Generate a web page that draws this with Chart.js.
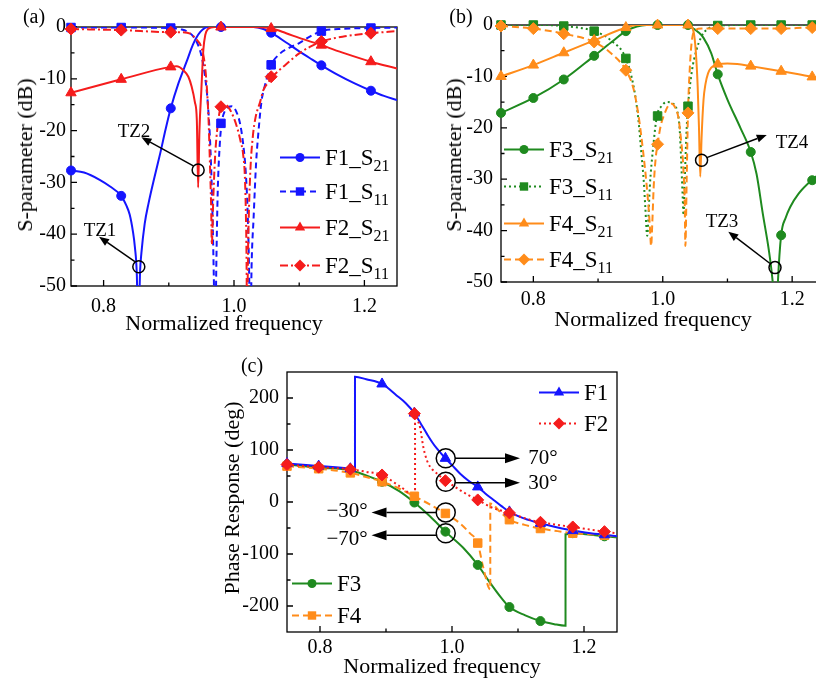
<!DOCTYPE html>
<html lang="en">
<head>
<meta charset="UTF-8">
<title>Filter responses</title>
<script src="https://cdn.jsdelivr.net/npm/chart.js"></script>
<style>
  body { margin: 0; width: 816px; height: 681px; overflow: hidden; background: #fff; position: relative;
         font-family: "Liberation Serif", "Times New Roman", serif; color: #000; }
  .box { position: absolute; }
  .txt { position: absolute; white-space: nowrap; line-height: 1; transform: translate(-50%, -50%); }
  .ytitle { transform: translate(-50%, -50%) rotate(-90deg); }
  .leg { position: absolute; display: flex; align-items: center; white-space: nowrap; font-size: 23px;
         line-height: 1; transform: translateY(-50%); }
  .leg svg { margin-right: 5px; }
  .leg sub { font-size: 16px; vertical-align: -6px; line-height: 0; }
</style>
</head>
<body>
<div class="box" style="left:0;top:0"><canvas id="chartA" width="410" height="340"></canvas></div>
<div class="box" style="left:420px;top:0"><canvas id="chartB" width="420" height="340"></canvas></div>
<div class="box" style="left:200px;top:345px"><canvas id="chartC" width="430" height="336"></canvas></div>

<div class="txt" style="left:34px;top:16px;font-size:20px">(a)</div>
<div class="txt" style="left:461px;top:16px;font-size:20px">(b)</div>
<div class="txt" style="left:252px;top:365px;font-size:20px">(c)</div>

<div class="txt ytitle" style="left:25px;top:155px;font-size:22px">S-parameter (dB)</div>
<div class="txt ytitle" style="left:454px;top:155px;font-size:22px">S-parameter (dB)</div>
<div class="txt ytitle" style="left:232px;top:498px;font-size:22px">Phase Response (deg)</div>
<div class="txt" style="left:224px;top:323px;font-size:22px">Normalized frequency</div>
<div class="txt" style="left:653px;top:319px;font-size:22px">Normalized frequency</div>
<div class="txt" style="left:442px;top:666px;font-size:22px">Normalized frequency</div>

<div class="txt" style="left:100px;top:229px;font-size:19px">TZ1</div>
<div class="txt" style="left:134px;top:130px;font-size:19px">TZ2</div>
<div class="txt" style="left:722px;top:220px;font-size:19px">TZ3</div>
<div class="txt" style="left:792px;top:141px;font-size:19px">TZ4</div>
<div class="txt" style="left:543px;top:457px;font-size:21px">70°</div>
<div class="txt" style="left:543px;top:482px;font-size:21px">30°</div>
<div class="txt" style="left:347px;top:510px;font-size:21px">−30°</div>
<div class="txt" style="left:347px;top:538px;font-size:21px">−70°</div>

<script>
// ---------- panel (a): F1 / F2 S-parameters ----------
const a_f1s21_f  = [0.75, 0.77, 0.794, 0.81, 0.827, 0.835, 0.84, 0.845, 0.848, 0.851, 0.853, 0.856, 0.858, 0.863, 0.869, 0.878, 0.887, 0.895, 0.903, 0.915, 0.927, 0.937, 0.945, 0.952, 0.96, 0.98, 1.03, 1.045, 1.057, 1.08, 1.10, 1.12, 1.134, 1.16, 1.185, 1.21, 1.23, 1.25];
const a_f1s21_db = [-27.7, -28.1, -29.5, -30.8, -32.6, -34.5, -36.2, -39.5, -42.5, -48, -60, -47, -43.6, -38, -34, -29, -24.3, -19.8, -15.7, -10.8, -6.8, -3.4, -1.5, -0.5, 0, 0, 0, -0.4, -1.1, -3.0, -4.7, -6.3, -7.4, -9.3, -10.9, -12.3, -13.3, -14.1];

const a_f1s11_f  = [0.75, 0.827, 0.903, 0.92, 0.93, 0.938, 0.945, 0.95, 0.955, 0.96, 0.964, 0.967, 0.969, 0.971, 0.973, 0.975, 0.978, 0.981, 0.986, 0.992, 0.997, 1.003, 1.009, 1.014, 1.018, 1.021, 1.023, 1.025, 1.027, 1.03, 1.034, 1.037, 1.042, 1.047, 1.052, 1.057, 1.07, 1.085, 1.10, 1.117, 1.134, 1.16, 1.21, 1.25];
const a_f1s11_db = [-0.1, -0.1, -0.2, -0.5, -1.0, -1.9, -3.5, -5.5, -9, -15, -24, -36, -48, -62, -45, -32, -23, -18.6, -16.2, -15.4, -15.3, -16.2, -18.5, -22.5, -28, -36, -46, -62, -46, -37, -26, -21, -14.5, -11.5, -9.2, -7.3, -5.2, -4.0, -3.1, -1.8, -0.8, -0.4, -0.2, -0.1];

const a_f2s21_f  = [0.75, 0.827, 0.903, 0.912, 0.922, 0.93, 0.935, 0.94, 0.943, 0.945, 0.947, 0.95, 0.953, 0.956, 0.96, 0.97, 1.03, 1.058, 1.08, 1.10, 1.134, 1.17, 1.21, 1.25];
const a_f2s21_db = [-12.7, -10.1, -7.7, -7.6, -8.3, -9.6, -11.5, -14.5, -18, -31, -20, -12, -4.4, -1.5, -0.4, 0, 0, -0.3, -1.2, -2.1, -3.5, -5.1, -6.7, -8.0];

const a_f2s11_f  = [0.75, 0.827, 0.903, 0.92, 0.933, 0.943, 0.95, 0.955, 0.958, 0.961, 0.963, 0.965, 0.966, 0.968, 0.971, 0.975, 0.98, 0.986, 0.992, 0.999, 1.005, 1.01, 1.014, 1.017, 1.019, 1.02, 1.022, 1.025, 1.029, 1.033, 1.04, 1.045, 1.052, 1.059, 1.08, 1.10, 1.117, 1.134, 1.17, 1.21, 1.25];
const a_f2s11_db = [-0.4, -0.6, -1.0, -1.0, -1.3, -2.5, -3.9, -7, -11, -18, -26, -35, -42, -34, -25, -19, -15.4, -15.0, -15.6, -17.3, -19.5, -22, -24.6, -30, -42, -55, -40, -28, -21, -17.5, -14.5, -12.2, -10.8, -9.6, -7.2, -5.1, -3.8, -2.8, -1.8, -1.2, -0.8];

const a_mark_f     = [0.75, 0.827, 0.903, 0.98, 1.057, 1.134, 1.21];
const a_f1s21_mark = [-27.7, -32.6, -15.7, 0, -1.1, -7.4, -12.3];
const a_f1s11_mark = [-0.1, -0.1, -0.2, -18.6, -7.3, -0.8, -0.2];
const a_f2s21_mark = [-12.7, -10.1, -7.7, 0, -0.3, -3.5, -6.7];
const a_f2s11_mark = [-0.4, -0.6, -1.0, -15.4, -9.6, -2.8, -1.2];

// ---------- panel (b): F3 / F4 S-parameters ----------
const b_f3s21_f  = [0.75, 0.8, 0.847, 0.894, 0.92, 0.943, 0.96, 0.975, 1.036, 1.045, 1.055, 1.063, 1.075, 1.085, 1.10, 1.12, 1.136, 1.145, 1.155, 1.163, 1.168, 1.172, 1.175, 1.178, 1.183, 1.19, 1.197, 1.21, 1.23, 1.25];
const b_f3s21_db = [-17.1, -14.2, -10.6, -6.0, -3.4, -1.2, -0.3, 0, 0, -0.5, -1.4, -2.5, -5.5, -9.6, -14.5, -20, -24.7, -29, -37, -43, -47.7, -53, -60, -50, -40.9, -37.5, -35.4, -32.8, -30.2, -28.3];

const b_f3s11_f  = [0.75, 0.8, 0.847, 0.894, 0.92, 0.943, 0.955, 0.962, 0.967, 0.971, 0.973, 0.976, 0.978, 0.98, 0.985, 0.991, 0.998, 1.006, 1.014, 1.022, 1.026, 1.029, 1.031, 1.032, 1.034, 1.037, 1.039, 1.045, 1.052, 1.06, 1.067, 1.08, 1.085, 1.136, 1.183, 1.25];
const b_f3s11_db = [0, 0, -0.2, -1.2, -3.0, -6.5, -12, -18, -25, -31, -35.4, -41, -37, -31.5, -24, -17.7, -15.8, -15, -15.2, -16.6, -20, -28, -34, -37, -30, -20, -15.8, -9, -4.9, -2.2, -1.0, -0.2, -0.1, 0, 0, 0];

const b_f4s21_f  = [0.75, 0.8, 0.847, 0.894, 0.943, 0.96, 1.036, 1.044, 1.048, 1.051, 1.054, 1.056, 1.058, 1.06, 1.063, 1.066, 1.07, 1.075, 1.081, 1.086, 1.10, 1.115, 1.136, 1.16, 1.183, 1.21, 1.231, 1.25];
const b_f4s21_db = [-10.0, -7.8, -5.4, -3.0, -0.5, 0, 0, -0.3, -1.5, -5, -12, -20, -29.5, -22, -14.6, -11.5, -9.4, -8.3, -7.8, -7.6, -7.5, -7.6, -8.0, -8.5, -9.0, -9.6, -10.1, -10.5];

const b_f4s11_f  = [0.75, 0.8, 0.847, 0.894, 0.92, 0.943, 0.955, 0.963, 0.97, 0.975, 0.978, 0.98, 0.982, 0.984, 0.986, 0.989, 0.992, 0.997, 1.003, 1.008, 1.014, 1.019, 1.024, 1.028, 1.032, 1.034, 1.035, 1.037, 1.039, 1.042, 1.045, 1.05, 1.06, 1.085, 1.136, 1.183, 1.231, 1.25];
const b_f4s11_db = [-0.2, -0.7, -1.7, -3.3, -5.5, -8.8, -12.5, -18, -25, -31, -35.4, -39, -43, -38, -31.5, -26, -23.2, -19.5, -17.2, -15.8, -15.3, -16, -17.9, -22, -28.2, -35, -43, -30, -17.1, -8, -3, -1, -0.7, -0.7, -0.7, -0.7, -0.5, -0.5];

const b_mark_f     = [0.75, 0.8, 0.847, 0.894, 0.943, 0.992, 1.039, 1.085, 1.136, 1.183, 1.231];
const b_f3s21_mark = [-17.1, -14.2, -10.6, -6.0, -1.2, 0, 0, -9.6, -24.7, -40.9, -30.2];
const b_f3s11_mark = [0, 0, -0.2, -1.2, -6.5, -17.7, -15.8, -0.1, 0, 0, 0];
const b_f4s21_mark = [-10.0, -7.8, -5.4, -3.0, -0.5, 0, 0, -7.6, -8.0, -9.0, -10.1];
const b_f4s11_mark = [-0.2, -0.7, -1.7, -3.3, -8.8, -23.2, -17.1, -0.7, -0.7, -0.7, -0.5];

// ---------- panel (c): phase responses ----------
const c_f1_f   = [0.75, 0.798, 0.846, 0.853, 0.853, 0.87, 0.894, 0.916, 0.93, 0.943, 0.953, 0.962, 0.97, 0.977, 0.99, 1.0, 1.012, 1.025, 1.039, 1.05, 1.063, 1.075, 1.087, 1.11, 1.134, 1.16, 1.183, 1.21, 1.231, 1.25];
const c_f1_deg = [74, 69, 64, 62, 241, 236, 227, 205, 190, 171, 150, 131, 115, 103, 84, 71, 55, 41, 29, 17, 4, -8, -19, -32, -41, -49, -55, -60, -63, -66];

const c_f2_f   = [0.75, 0.798, 0.846, 0.87, 0.894, 0.921, 0.944, 0.944, 0.948, 0.9515, 0.9565, 0.96, 0.964, 0.97, 0.977, 0.99, 1.0, 1.012, 1.025, 1.039, 1.05, 1.063, 1.087, 1.11, 1.134, 1.16, 1.183, 1.21, 1.231, 1.25];
const c_f2_deg = [72, 67, 63, 58, 52, 30, 13, 170, 157, 144, 106, 88, 74, 63, 55, 41, 33, 23, 13, 4, -4, -12, -21, -31, -39, -44, -48, -53, -57, -60];

const c_f3_f   = [0.75, 0.798, 0.846, 0.87, 0.894, 0.92, 0.943, 0.967, 0.99, 1.017, 1.039, 1.058, 1.075, 1.087, 1.111, 1.134, 1.155, 1.172, 1.172, 1.183, 1.21, 1.231, 1.25];
const c_f3_deg = [72, 66, 61, 51, 39, 21, -1, -28, -57, -88, -121, -156, -185, -202, -218, -229, -235, -238, -62, -60, -63, -66, -68];

const c_f4_f   = [0.75, 0.798, 0.846, 0.87, 0.894, 0.92, 0.943, 0.967, 0.99, 1.012, 1.027, 1.039, 1.047, 1.058, 1.058, 1.073, 1.087, 1.11, 1.134, 1.16, 1.183, 1.21, 1.231, 1.25];
const c_f4_deg = [69, 64, 56, 48, 39, 26, 11, -5, -22, -41, -60, -79, -124, -168, -3, -19, -34, -44, -51, -56, -60, -62, -64, -66];

const c_mark_f  = [0.75, 0.798, 0.846, 0.894, 0.943, 0.99, 1.039, 1.087, 1.134, 1.183, 1.231];
const c_f1_mark = [74, 69, 64, 227, 171, 84, 29, -19, -41, -55, -63];
const c_f2_mark = [72, 67, 63, 52, 170, 41, 4, -21, -39, -48, -57];
const c_f3_mark = [72, 66, 61, 39, -1, -57, -121, -202, -229, -60, -66];
const c_f4_mark = [69, 64, 56, 39, 11, -22, -79, -34, -51, -60, -64];

// ---------- tick values ----------
const freqTicks  = [0.8, 1.0, 1.2];
const freqMinor  = [0.9, 1.1];
const dbTicks    = [0, -10, -20, -30, -40, -50];
const dbMinor    = [-5, -15, -25, -35, -45];
const phaseTicks = [200, 100, 0, -100, -200];
const phaseMinor = [150, 50, -50, -150];

// ---------- styles ----------
const BLUE = '#1515ff', RED = '#f51c1c', GREEN = '#1f8a1f', ORANGE = '#ff8c1a';

Chart.defaults.font.family = '"Liberation Serif", "Times New Roman", serif';
Chart.defaults.color = '#000';

function pts(xs, ys) {
    return xs.map((x, i) => ({ x: x, y: ys[i] }));
}

function curve(xs, ys, color, dash) {
    return {
        data: pts(xs, ys), showLine: true, borderColor: color, backgroundColor: color,
        borderWidth: 2, borderDash: dash, pointRadius: 0, pointHoverRadius: 0,
        cubicInterpolationMode: 'monotone'
    };
}

function marks(xs, ys, color, shape, r) {
    return {
        data: pts(xs, ys), showLine: false, pointStyle: shape, pointRadius: r,
        pointBackgroundColor: color, pointBorderColor: color, pointBorderWidth: 1, clip: false
    };
}

// box + inward tick marks
const framePlugin = {
    id: 'frame',
    beforeDatasetsDraw(chart, args, o) {
        const { ctx, chartArea: a, scales: { x, y } } = chart;
        ctx.save();
        ctx.strokeStyle = '#000';
        ctx.lineWidth = 1.3;
        ctx.strokeRect(a.left, a.top, a.right - a.left, a.bottom - a.top);
        ctx.beginPath();
        const tx = (v, len) => { const p = x.getPixelForValue(v); ctx.moveTo(p, a.bottom); ctx.lineTo(p, a.bottom - len); };
        const ty = (v, len) => { const p = y.getPixelForValue(v); ctx.moveTo(a.left, p); ctx.lineTo(a.left + len, p); };
        o.xMajor.forEach(v => tx(v, 6));
        o.xMinor.forEach(v => tx(v, 3.5));
        o.yMajor.forEach(v => ty(v, 6));
        o.yMinor.forEach(v => ty(v, 3.5));
        ctx.stroke();
        ctx.restore();
    }
};

// rings and arrows placed in data coordinates
const notesPlugin = {
    id: 'notes',
    afterDatasetsDraw(chart, args, o) {
        const { ctx, scales: { x, y } } = chart;
        ctx.save();
        ctx.strokeStyle = '#000';
        ctx.fillStyle = '#000';
        ctx.lineWidth = 1.5;
        (o.rings || []).forEach(([fx, fy, r]) => {
            ctx.beginPath();
            ctx.arc(x.getPixelForValue(fx), y.getPixelForValue(fy), r, 0, Math.PI * 2);
            ctx.stroke();
        });
        (o.arrows || []).forEach(([fx1, fy1, fx2, fy2]) => {
            const x1 = x.getPixelForValue(fx1), y1 = y.getPixelForValue(fy1);
            const x2 = x.getPixelForValue(fx2), y2 = y.getPixelForValue(fy2);
            const ang = Math.atan2(y2 - y1, x2 - x1);
            const bx = x2 - o.head * Math.cos(ang), by = y2 - o.head * Math.sin(ang);
            ctx.beginPath();
            ctx.moveTo(x1, y1);
            ctx.lineTo(bx, by);
            ctx.stroke();
            ctx.beginPath();
            ctx.moveTo(x2, y2);
            ctx.lineTo(bx + o.half * Math.sin(ang), by - o.half * Math.cos(ang));
            ctx.lineTo(bx - o.half * Math.sin(ang), by + o.half * Math.cos(ang));
            ctx.closePath();
            ctx.fill();
        });
        ctx.restore();
    }
};

function makeChart(id, datasets, c) {
    return new Chart(document.getElementById(id), {
        type: 'scatter',
        data: { datasets: datasets },
        options: {
            responsive: false,
            animation: false,
            events: [],
            layout: { padding: c.pad },
            plugins: {
                legend: { display: false },
                tooltip: { enabled: false },
                frame: { xMajor: freqTicks, xMinor: freqMinor, yMajor: c.yTicks, yMinor: c.yMinor },
                notes: c.notes
            },
            scales: {
                x: {
                    type: 'linear', min: 0.75, max: 1.25,
                    grid: { display: false, drawTicks: false }, border: { display: false },
                    afterBuildTicks: s => { s.ticks = freqTicks.map(v => ({ value: v })); },
                    afterFit: s => { s.height = c.xH; },
                    ticks: { padding: c.xPad, font: { size: 20 }, color: '#000', maxRotation: 0, autoSkip: false,
                             callback: v => v.toFixed(1) }
                },
                y: {
                    type: 'linear', min: c.yMin, max: c.yMax,
                    grid: { display: false, drawTicks: false }, border: { display: false },
                    afterBuildTicks: s => { s.ticks = c.yTicks.map(v => ({ value: v })); },
                    afterFit: s => { s.width = c.yW; },
                    ticks: { padding: c.yPad, font: { size: 20 }, color: '#000', autoSkip: false,
                             callback: v => String(v) }
                }
            }
        },
        plugins: [framePlugin, notesPlugin]
    });
}

makeChart('chartA', [
    marks(a_mark_f, a_f2s11_mark, RED, 'rectRot', 6),
    marks(a_mark_f, a_f2s21_mark, RED, 'triangle', 6),
    marks(a_mark_f, a_f1s11_mark, BLUE, 'rect', 6),
    marks(a_mark_f, a_f1s21_mark, BLUE, 'circle', 4.5),
    curve(a_f2s11_f, a_f2s11_db, RED, [8, 3, 2, 3]),
    curve(a_f2s21_f, a_f2s21_db, RED, []),
    curve(a_f1s11_f, a_f1s11_db, BLUE, [6, 4]),
    curve(a_f1s21_f, a_f1s21_db, BLUE, [])
], {
    pad: { top: 27, right: 13, left: 0, bottom: 0 }, yW: 71, xH: 54, xPad: 9, yPad: 5,
    yMin: -50, yMax: 0, yTicks: dbTicks, yMinor: dbMinor,
    notes: {
        head: 10, half: 4,
        rings: [[0.854, -46.3, 6], [0.945, -27.6, 6]],
        arrows: [[0.848, -45.3, 0.793, -40.5], [0.9376, -26.8, 0.858, -21.3]]
    }
});

makeChart('chartB', [
    marks(b_mark_f, b_f4s11_mark, ORANGE, 'rectRot', 6),
    marks(b_mark_f, b_f4s21_mark, ORANGE, 'triangle', 6),
    marks(b_mark_f, b_f3s11_mark, GREEN, 'rect', 6),
    marks(b_mark_f, b_f3s21_mark, GREEN, 'circle', 4.5),
    curve(b_f4s11_f, b_f4s11_db, ORANGE, [7, 4]),
    curve(b_f4s21_f, b_f4s21_db, ORANGE, []),
    curve(b_f3s11_f, b_f3s11_db, GREEN, [2, 3]),
    curve(b_f3s21_f, b_f3s21_db, GREEN, [])
], {
    pad: { top: 25, right: 15.5, left: 0, bottom: 0 }, yW: 81, xH: 58, xPad: 6, yPad: 8,
    yMin: -50, yMax: 0, yTicks: dbTicks, yMinor: dbMinor,
    notes: {
        head: 10, half: 4,
        rings: [[1.060, -26.3, 6], [1.1735, -47.2, 6]],
        arrows: [[1.068, -25.8, 1.1607, -21.4], [1.1658, -46.4, 1.1013, -40.2]]
    }
});

makeChart('chartC', [
    marks(c_mark_f, c_f2_mark, RED, 'rectRot', 6),
    marks(c_mark_f, c_f1_mark, BLUE, 'triangle', 6),
    marks(c_mark_f, c_f4_mark, ORANGE, 'rect', 6),
    marks(c_mark_f, c_f3_mark, GREEN, 'circle', 4.5),
    curve(c_f2_f, c_f2_deg, RED, [2, 3]),
    curve(c_f1_f, c_f1_deg, BLUE, []),
    curve(c_f4_f, c_f4_deg, ORANGE, [7, 4]),
    curve(c_f3_f, c_f3_deg, GREEN, [])
], {
    pad: { top: 27, right: 13, left: 0, bottom: 0 }, yW: 87, xH: 49, xPad: 4, yPad: 8,
    yMin: -250, yMax: 250, yTicks: phaseTicks, yMinor: phaseMinor,
    notes: {
        head: 15, half: 5,
        rings: [[0.9905, 84, 9.5], [0.9905, 39, 9.5], [0.9905, -20, 9.5], [0.9905, -60, 9.5]],
        arrows: [[1.0045, 84, 1.103, 84], [1.0045, 37, 1.103, 37],
                 [0.9768, -20, 0.878, -20], [0.9768, -64, 0.878, -64]]
    }
});

// ---------- legends (HTML text, small SVG keys) ----------
function keySvg(color, dash, shape) {
    const d = dash.length ? ` stroke-dasharray="${dash.join(' ')}"` : '';
    let m;
    if (shape === 'circle') m = `<circle cx="20" cy="9" r="4.5" fill="${color}"/>`;
    else if (shape === 'rect') m = `<rect x="15.8" y="4.8" width="8.4" height="8.4" fill="${color}"/>`;
    else if (shape === 'triangle') m = `<polygon points="20,3 25.2,12 14.8,12" fill="${color}"/>`;
    else m = `<polygon points="20,3 26,9 20,15 14,9" fill="${color}"/>`;
    return `<svg width="40" height="18"><line x1="0" y1="9" x2="40" y2="9" stroke="${color}" stroke-width="2.2"${d}/>${m}</svg>`;
}

function legendRow(left, top, color, dash, shape, label) {
    const el = document.createElement('div');
    el.className = 'leg';
    el.style.left = left + 'px';
    el.style.top = top + 'px';
    el.innerHTML = keySvg(color, dash, shape) + '<span>' + label + '</span>';
    document.body.appendChild(el);
}

legendRow(280, 157, BLUE, [], 'circle', 'F1_S<sub>21</sub>');
legendRow(280, 191, BLUE, [6, 4], 'rect', 'F1_S<sub>11</sub>');
legendRow(280, 227, RED, [], 'triangle', 'F2_S<sub>21</sub>');
legendRow(280, 265, RED, [8, 3, 2, 3], 'diamond', 'F2_S<sub>11</sub>');

legendRow(504, 149, GREEN, [], 'circle', 'F3_S<sub>21</sub>');
legendRow(504, 186, GREEN, [2, 3], 'rect', 'F3_S<sub>11</sub>');
legendRow(504, 223, ORANGE, [], 'triangle', 'F4_S<sub>21</sub>');
legendRow(504, 259, ORANGE, [7, 4], 'diamond', 'F4_S<sub>11</sub>');

legendRow(539, 392, BLUE, [], 'triangle', 'F1');
legendRow(539, 423, RED, [2, 3], 'diamond', 'F2');
legendRow(292, 583, GREEN, [], 'circle', 'F3');
legendRow(292, 615, ORANGE, [7, 4], 'rect', 'F4');
</script>
</body>
</html>
